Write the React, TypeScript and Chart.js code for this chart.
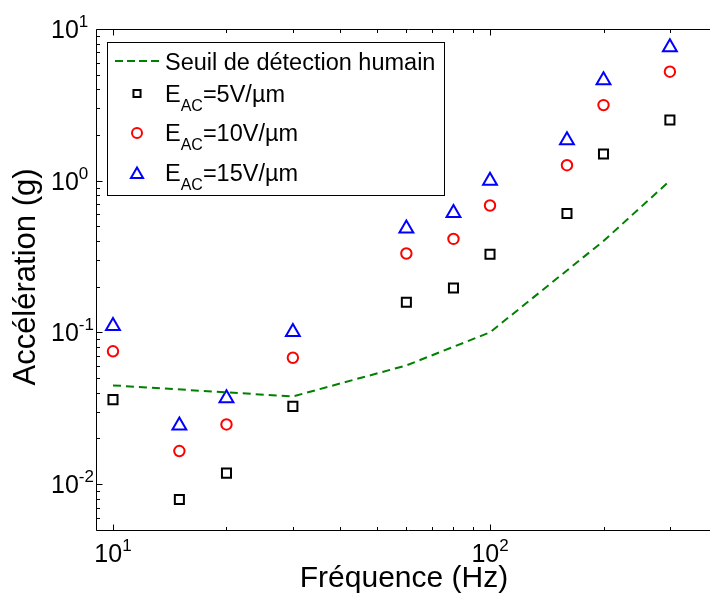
import React, { useEffect, useRef } from 'react';
import { Chart, registerables } from 'chart.js';

Chart.register(...registerables);

// ---- data ----
const freq = [10, 15, 20, 30, 60, 80, 100, 160, 200, 300];
const acc5 = [0.036, 0.0079, 0.0118, 0.0325, 0.158, 0.196, 0.327, 0.607, 1.5, 2.51];
const acc10 = [0.075, 0.0165, 0.0247, 0.068, 0.331, 0.413, 0.686, 1.265, 3.15, 5.23];
const acc15 = [0.11, 0.0243, 0.0367, 0.1005, 0.484, 0.613, 0.997, 1.85, 4.6, 7.57];
const thresholdFreq = [10, 30, 60, 100, 200, 300];
const thresholdAcc = [0.0447, 0.0378, 0.0605, 0.1, 0.4, 1.0];

const xMajorTicks = [10, 100];
const xMajorExp = ['1', '2'];
const yMajorTicks = [0.01, 0.1, 1, 10];
const yMajorExp = ['-2', '-1', '0', '1'];

const xTitle = 'Fréquence (Hz)';
const yTitle = 'Accélération (g)';
const thresholdLabel = 'Seuil de détection humain';
const fieldLabels = ['5V/µm', '10V/µm', '15V/µm'];

const FONT = '"Liberation Sans", Arial, Helvetica, sans-serif';
const GREEN = '#008000';

function pts(xs: number[], ys: number[]) {
  return xs.map((x, i) => ({ x, y: ys[i] }));
}

function drawMarker(ctx: CanvasRenderingContext2D, kind: string, x: number, y: number, r: number, color: string) {
  ctx.save();
  ctx.strokeStyle = color;
  ctx.lineWidth = 2;
  ctx.beginPath();
  if (kind === 'rect') {
    const s = r * Math.SQRT1_2;
    ctx.rect(x - s, y - s, 2 * s, 2 * s);
  } else if (kind === 'circle') {
    ctx.arc(x, y, r, 0, Math.PI * 2);
  } else {
    let rad = 0;
    ctx.moveTo(x + Math.sin(rad) * r, y - Math.cos(rad) * r);
    rad += (2 * Math.PI) / 3;
    ctx.lineTo(x + Math.sin(rad) * r, y - Math.cos(rad) * r);
    rad += (2 * Math.PI) / 3;
    ctx.lineTo(x + Math.sin(rad) * r, y - Math.cos(rad) * r);
    ctx.closePath();
  }
  ctx.stroke();
  ctx.restore();
}

const decorPlugin = {
  id: 'decor',
  afterDraw(chart: any) {
    const ctx: CanvasRenderingContext2D = chart.ctx;
    const { left, top, right, bottom } = chart.chartArea;
    const xs = chart.scales.x;
    const ys = chart.scales.y;
    ctx.save();

    // box (left, top, bottom; right side lies beyond the visible page)
    const L = Math.round(left) - 0.5;
    const T = Math.round(top) + 0.5;
    const R = Math.round(right) - 0.5;
    const B = Math.round(bottom) - 0.5;
    ctx.strokeStyle = '#000';
    ctx.lineWidth = 1;
    ctx.beginPath();
    ctx.moveTo(R + 5, T);
    ctx.lineTo(L, T);
    ctx.lineTo(L, B);
    ctx.lineTo(R + 5, B);
    ctx.stroke();

    // x ticks
    ctx.beginPath();
    const xmin = xs.min, xmax = xs.max;
    for (let d = 0; d <= 3; d++) {
      for (let m = 1; m <= 9; m++) {
        const v = m * Math.pow(10, d);
        if (v < xmin || v > xmax) continue;
        const px = Math.round(xs.getPixelForValue(v)) + 0.5;
        const len = m === 1 ? 6 : 3.5;
        ctx.moveTo(px, B);
        ctx.lineTo(px, B - len);
        ctx.moveTo(px, T);
        ctx.lineTo(px, T + len);
      }
    }
    // y ticks
    const ymin = ys.min, ymax = ys.max;
    for (let d = -3; d <= 1; d++) {
      for (let m = 1; m <= 9; m++) {
        const v = m * Math.pow(10, d);
        if (v < ymin || v > ymax * 1.0001) continue;
        const py = Math.round(ys.getPixelForValue(v)) + 0.5;
        const len = m === 1 ? 6 : 3.5;
        ctx.moveTo(L, py);
        ctx.lineTo(L + len, py);
      }
    }
    ctx.stroke();

    // tick labels
    ctx.fillStyle = '#000';
    ctx.textBaseline = 'alphabetic';
    ctx.textAlign = 'left';
    const mainFont = `25px ${FONT}`;
    const supFont = `17px ${FONT}`;
    xMajorTicks.forEach((v, i) => {
      const px = xs.getPixelForValue(v);
      ctx.font = mainFont;
      const w1 = ctx.measureText('10').width;
      ctx.font = supFont;
      const w2 = ctx.measureText(xMajorExp[i]).width;
      const start = px - (w1 + w2) / 2;
      ctx.font = mainFont;
      ctx.fillText('10', start, 562);
      ctx.font = supFont;
      ctx.fillText(xMajorExp[i], start + w1, 551);
    });
    yMajorTicks.forEach((v, i) => {
      const py = ys.getPixelForValue(v);
      ctx.font = mainFont;
      const w1 = ctx.measureText('10').width;
      ctx.fillText('10', 51, py + 9);
      ctx.font = supFont;
      ctx.fillText(yMajorExp[i], 51 + w1, py - 2);
    });

    // axis titles
    ctx.font = `30px ${FONT}`;
    ctx.textAlign = 'center';
    ctx.fillText(xTitle, 404, 587);
    ctx.save();
    ctx.font = `31px ${FONT}`;
    ctx.translate(35, 277);
    ctx.rotate(-Math.PI / 2);
    ctx.fillText(yTitle, 0, 0);
    ctx.restore();

    // legend
    const bx = 107.5, by = 42.5, bw = 337, bh = 153;
    ctx.fillStyle = '#fff';
    ctx.fillRect(bx, by, bw, bh);
    ctx.strokeStyle = '#000';
    ctx.lineWidth = 1;
    ctx.strokeRect(bx, by, bw, bh);

    ctx.textAlign = 'left';
    ctx.fillStyle = '#000';
    const tx = 165;
    const legFont = `23.5px ${FONT}`;
    const subFont = `16px ${FONT}`;
    // row 1
    ctx.save();
    ctx.strokeStyle = GREEN;
    ctx.lineWidth = 2;
    ctx.setLineDash([8, 4]);
    ctx.beginPath();
    ctx.moveTo(115, 61);
    ctx.lineTo(161, 61);
    ctx.stroke();
    ctx.restore();
    ctx.font = legFont;
    ctx.fillText(thresholdLabel, tx, 69.5);

    const baselines = [101.5, 141, 180.5];
    const kinds = ['rect', 'circle', 'triangle'];
    const colors = ['#000000', '#ff0000', '#0000ff'];
    const radii = [5, 5, 7];
    fieldLabels.forEach((lab, i) => {
      const bl = baselines[i];
      drawMarker(ctx, kinds[i], 137, bl - 8 + (kinds[i] === 'triangle' ? 2 : 0), radii[i], colors[i]);
      ctx.fillStyle = '#000';
      ctx.font = legFont;
      ctx.fillText('E', tx, bl);
      const wE = ctx.measureText('E').width;
      ctx.font = subFont;
      ctx.fillText('AC', tx + wE, bl + 9);
      const wAC = ctx.measureText('AC').width;
      ctx.font = legFont;
      ctx.fillText('=' + lab, tx + wE + wAC, bl);
    });

    ctx.restore();
  },
};

export default function App() {
  const ref = useRef<HTMLCanvasElement | null>(null);
  useEffect(() => {
    if (!ref.current) return;
    const chart = new Chart(ref.current, {
      type: 'scatter',
      data: {
        datasets: [
          {
            label: thresholdLabel,
            data: pts(thresholdFreq, thresholdAcc),
            showLine: true,
            borderColor: GREEN,
            borderWidth: 2,
            borderDash: [8, 5],
            pointRadius: 0,
            fill: false,
          } as any,
          {
            label: 'E_AC=5V/µm',
            data: pts(freq, acc5),
            pointStyle: 'rect',
            pointRadius: 6.4,
            borderColor: '#000000',
            backgroundColor: 'rgba(0,0,0,0)',
            pointBorderWidth: 2,
          },
          {
            label: 'E_AC=10V/µm',
            data: pts(freq, acc10),
            pointStyle: 'circle',
            pointRadius: 5.2,
            borderColor: '#ff0000',
            backgroundColor: 'rgba(0,0,0,0)',
            pointBorderWidth: 2,
          },
          {
            label: 'E_AC=15V/µm',
            data: pts(freq, acc15),
            pointStyle: 'triangle',
            pointRadius: 8,
            borderColor: '#0000ff',
            backgroundColor: 'rgba(0,0,0,0)',
            pointBorderWidth: 2,
          },
        ],
      },
      options: {
        animation: false,
        responsive: false,
        maintainAspectRatio: false,
        layout: { autoPadding: false, padding: { top: 29, right: 3, left: 0, bottom: 0 } },
        plugins: { legend: { display: false }, tooltip: { enabled: false } },
        scales: {
          x: {
            type: 'logarithmic',
            min: 9.07,
            max: 400,
            grid: { display: false },
            border: { display: false },
            ticks: { display: false },
            afterFit: (s: any) => { s.height = 70; },
          },
          y: {
            type: 'logarithmic',
            min: 0.0049,
            max: 10,
            grid: { display: false },
            border: { display: false },
            ticks: { display: false },
            afterFit: (s: any) => { s.width = 97; },
          },
        },
      } as any,
      plugins: [decorPlugin],
    });
    return () => chart.destroy();
  }, []);

  return (
    <div style={{ position: 'fixed', left: 0, top: 0, width: 710, height: 601, overflow: 'hidden', background: '#fff' }}>
      <canvas ref={ref} width={720} height={601} style={{ display: 'block', width: 720, height: 601 }} />
    </div>
  );
}
